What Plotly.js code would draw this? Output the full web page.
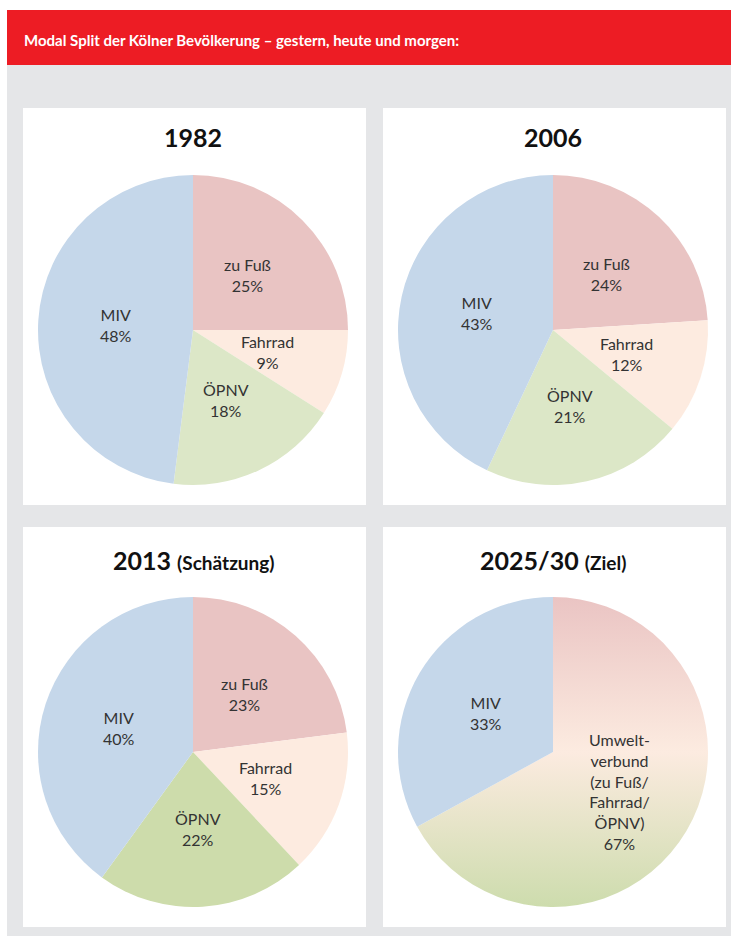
<!DOCTYPE html>
<html>
<head>
<meta charset="utf-8">
<script src="https://cdn.plot.ly/plotly-3.0.1.min.js"></script>
<style>
  html, body { margin: 0; padding: 0; background: #ffffff; }
  #chart { width: 731px; height: 936px; }
</style>
</head>
<body>
<div id="chart"></div>
<script>
// ---- data ----
const headerText = "Modal Split der Kölner Bevölkerung – gestern, heute und morgen:";
const categories = ["zu Fuß", "Fahrrad", "ÖPNV", "MIV"];
const values1982 = [25, 9, 18, 48];
const values2006 = [24, 12, 21, 43];
const values2013 = [23, 15, 22, 40];
const categoriesZiel = ["Umwelt-<br>verbund<br>(zu Fuß/<br>Fahrrad/<br>ÖPNV)", "MIV"];
const valuesZiel = [67, 33];
const years = ["1982", "2006", "2013", "2025/30"];
const yearNotes = ["", "", "(Schätzung)", "(Ziel)"];

// ---- styling ----
const W = 731, H = 936;
const px = v => v / W;
const py = v => 1 - v / H;
const colPink = "#e9c4c3", colPeach = "#fdebe0", colGreen = "#dce7c7", colGreen3 = "#cddcab", colBlue = "#c5d7ea";
const labelFont = { family: "Lato, 'Open Sans', sans-serif", size: 16, color: "#333333" };
const R = 155;

// pie boxes: [left, right, top, bottom] in px
const boxes = [[38, 348, 175, 485], [398, 708, 175, 485], [38, 348, 597, 907], [398, 708, 597, 907]];
const pieLabels = [categories, categories, categories, categoriesZiel];
const pieValues = [values1982, values2006, values2013, valuesZiel];
const pieColors = [
  [colPink, colPeach, colGreen, colBlue],
  [colPink, colPeach, colGreen, colBlue],
  [colPink, colPeach, colGreen3, colBlue],
  [colPeach, colBlue]
];

const data = pieValues.map((vals, i) => {
  const b = boxes[i];
  return {
    type: "pie", labels: pieLabels[i], values: vals, sort: false,
    direction: "clockwise", rotation: 0,
    marker: { colors: pieColors[i], line: { width: 0 } },
    textinfo: "none",
    hoverinfo: "none", showlegend: false,
    domain: { x: [px(b[0]), px(b[1])], y: [py(b[3]), py(b[2])] }
  };
});

function rect(x0, y0, x1, y1, color) {
  return { type: "rect", xref: "paper", yref: "paper", layer: "below",
    x0: px(x0), x1: px(x1), y0: py(y1), y1: py(y0),
    fillcolor: color, line: { width: 0 } };
}

const shapes = [
  rect(7, 65, 731, 936, "#e5e6e8"),
  rect(7, 10, 731, 65, "#ed1c24"),
  rect(23, 108, 366, 505, "#ffffff"),
  rect(383, 108, 726, 505, "#ffffff"),
  rect(23, 527, 366, 927, "#ffffff"),
  rect(383, 527, 726, 927, "#ffffff")
];

const titlePos = [[193, 137], [553, 137], [194, 560], [553, 560]];
const annotations = [{
  xref: "paper", yref: "paper", x: px(22), y: py(40), xanchor: "left", yanchor: "middle",
  text: "<b>" + headerText + "</b>", showarrow: false,
  font: { family: "Lato, sans-serif", size: 15, color: "#ffffff" }
}];
years.forEach((y, i) => {
  const note = yearNotes[i] ? " <span style='font-size:19px'>" + yearNotes[i] + "</span>" : "";
  annotations.push({
    xref: "paper", yref: "paper", x: px(titlePos[i][0]), y: py(titlePos[i][1]),
    xanchor: "center", yanchor: "middle", showarrow: false,
    text: "<b>" + y + note + "</b>",
    font: { family: "Lato, 'Open Sans', sans-serif", size: 25, color: "#111111" }
  });
});

// slice labels: placed at half radius along each slice's mid-angle (computed from the values)
pieValues.forEach((vals, i) => {
  const b = boxes[i];
  const cx = (b[0] + b[1]) / 2, cy = (b[2] + b[3]) / 2;
  const total = vals.reduce((a, v) => a + v, 0);
  let cum = 0;
  vals.forEach((v, j) => {
    const mid = (cum + v / 2) / total * 2 * Math.PI;
    cum += v;
    const lx = cx + 0.5 * R * Math.sin(mid);
    const ly = cy - 0.5 * R * Math.cos(mid);
    annotations.push({
      xref: "paper", yref: "paper", x: px(lx), y: py(ly),
      xanchor: "center", yanchor: "middle", showarrow: false,
      text: pieLabels[i][j] + "<br>" + Math.round(v / total * 100) + "%",
      font: labelFont
    });
  });
});

const layout = {
  width: W, height: H,
  margin: { l: 0, r: 0, t: 0, b: 0 },
  paper_bgcolor: "#ffffff",
  shapes: shapes, annotations: annotations,
  showlegend: false
};

Plotly.newPlot("chart", data, layout, { staticPlot: true, displayModeBar: false }).then(gd => {
  const ns = "http://www.w3.org/2000/svg";
  const svg = gd.querySelector("svg.main-svg");
  let defs = svg.querySelector("defs");
  if (!defs) { defs = document.createElementNS(ns, "defs"); svg.insertBefore(defs, svg.firstChild); }
  const lg = document.createElementNS(ns, "linearGradient");
  lg.setAttribute("id", "umweltGrad");
  lg.setAttribute("x1", "0"); lg.setAttribute("y1", "0");
  lg.setAttribute("x2", "0"); lg.setAttribute("y2", "1");
  [["0", "#eac4c3"], ["0.5", "#fcebe0"], ["1", "#cddcad"]].forEach(s => {
    const st = document.createElementNS(ns, "stop");
    st.setAttribute("offset", s[0]); st.setAttribute("stop-color", s[1]);
    lg.appendChild(st);
  });
  defs.appendChild(lg);
  const traces = gd.querySelectorAll(".pielayer .trace");
  const path = traces[3].querySelector(".slice path.surface");
  if (path) path.style.fill = "url(#umweltGrad)";
});
</script>
</body>
</html>
